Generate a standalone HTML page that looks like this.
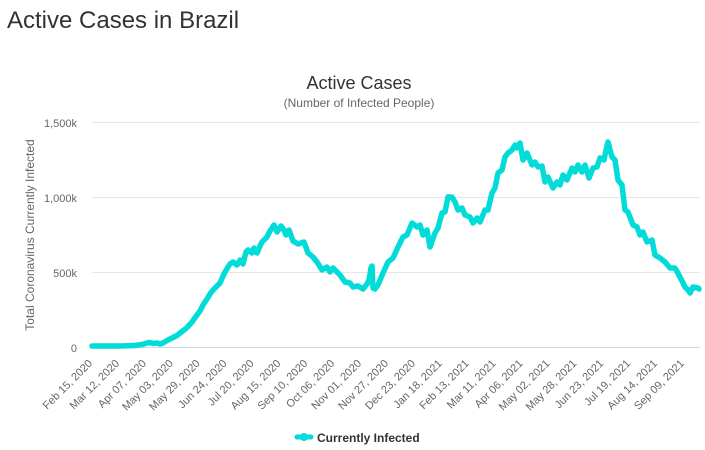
<!DOCTYPE html>
<html><head><meta charset="utf-8"><style>
html,body{margin:0;padding:0;background:#fff;}
body{width:705px;height:450px;overflow:hidden;position:relative;}
svg{position:absolute;left:0;top:0;}
</style></head><body>
<svg width="705" height="450" viewBox="0 0 705 450" xmlns="http://www.w3.org/2000/svg" font-family="'Liberation Sans', Arial, sans-serif">
<rect width="705" height="450" fill="#fff"/>
<text x="7" y="28" font-size="24" fill="#333">Active Cases in Brazil</text>
<text x="359" y="89" font-size="18" fill="#333" text-anchor="middle">Active Cases</text>
<text x="359" y="107" font-size="12" fill="#666" text-anchor="middle">(Number of Infected People)</text>
<g stroke="#e6e6e6" stroke-width="1">
<line x1="92" y1="122.5" x2="700" y2="122.5"/>
<line x1="92" y1="197.5" x2="700" y2="197.5"/>
<line x1="92" y1="272.5" x2="700" y2="272.5"/>
</g>
<line x1="92" y1="347.5" x2="700" y2="347.5" stroke="#ccd6eb" stroke-width="1"/>
<g font-size="11" fill="#666" text-anchor="end">
<text x="77" y="127">1,500k</text>
<text x="77" y="202">1,000k</text>
<text x="77" y="277">500k</text>
<text x="77" y="352">0</text>
</g>
<text transform="translate(34,235) rotate(-90)" font-size="12" fill="#666" text-anchor="middle">Total Coronavirus Currently Infected</text>
<g font-size="11" fill="#666" text-anchor="end">
<text transform="translate(93,364) rotate(-45)">Feb 15, 2020</text>
<text transform="translate(119.9,364) rotate(-45)">Mar 12, 2020</text>
<text transform="translate(146.8,364) rotate(-45)">Apr 07, 2020</text>
<text transform="translate(173.7,364) rotate(-45)">May 03, 2020</text>
<text transform="translate(200.6,364) rotate(-45)">May 29, 2020</text>
<text transform="translate(227.5,364) rotate(-45)">Jun 24, 2020</text>
<text transform="translate(254.4,364) rotate(-45)">Jul 20, 2020</text>
<text transform="translate(281.3,364) rotate(-45)">Aug 15, 2020</text>
<text transform="translate(308.2,364) rotate(-45)">Sep 10, 2020</text>
<text transform="translate(335.1,364) rotate(-45)">Oct 06, 2020</text>
<text transform="translate(362,364) rotate(-45)">Nov 01, 2020</text>
<text transform="translate(388.9,364) rotate(-45)">Nov 27, 2020</text>
<text transform="translate(415.8,364) rotate(-45)">Dec 23, 2020</text>
<text transform="translate(442.7,364) rotate(-45)">Jan 18, 2021</text>
<text transform="translate(469.6,364) rotate(-45)">Feb 13, 2021</text>
<text transform="translate(496.5,364) rotate(-45)">Mar 11, 2021</text>
<text transform="translate(523.4,364) rotate(-45)">Apr 06, 2021</text>
<text transform="translate(550.3,364) rotate(-45)">May 02, 2021</text>
<text transform="translate(577.2,364) rotate(-45)">May 28, 2021</text>
<text transform="translate(604.1,364) rotate(-45)">Jun 23, 2021</text>
<text transform="translate(631,364) rotate(-45)">Jul 19, 2021</text>
<text transform="translate(657.9,364) rotate(-45)">Aug 14, 2021</text>
<text transform="translate(684.8,364) rotate(-45)">Sep 09, 2021</text>
</g>
<polyline fill="none" stroke="#02dcd9" stroke-width="5.5" stroke-linejoin="round" stroke-linecap="round" points="92,346 120,346 135,345.5 142,344.5 147,343 150,342.5 153,343.5 157,343 160,344 164,342.5 167,340.5 172,338 177,335.5 180,333 184,330 187,327.5 192,322 197,315 200,311 203,305 207,299 210,294 213,290 215,288 218,285 220,283 223,276 225,272 228,267 230,264 233,262 237,265 240,260 243,264 246,252 248,250 252,253 254,248 257,253 260,246 262,242 267,237 270,231 274,225 277,232 281,226 284,230 286,235 289,230 293,241 298,244 304,242 308,253 313,257 317,262 322,270 327,267 330,272 333,268 337,272 340,275 345,282 350,283 353,287 358,286 363,289 367,284 369,280 371,268 372,266 373,288 375,289 378,285 383,273 388,262 393,258 398,247 403,237 407,235 412,223 417,227 420,225 423,235 427,230 430,247 435,233 438,228 442,213 445,212 448,197 452,197 455,202 458,210 462,208 465,215 470,217 473,223 477,218 480,222 485,210 488,210 492,193 495,188 498,173 502,170 505,157 508,153 512,150 515,145 517,148 520,143 523,160 527,153 532,165 535,162 538,167 542,166 545,182 548,177 553,188 557,182 560,185 563,175 567,180 572,168 575,172 578,165 582,172 585,165 589,178 593,168 597,167 600,158 604,160 606,150 608,142 610,150 612,157 615,160 618,180 622,185 625,210 628,212 633,225 637,227 640,235 643,232 647,242 652,240 655,255 660,258 665,262 670,268 675,268 680,277 685,287 688,290 690,293 693,287 698,288 699,289"/>
<line x1="297" y1="437" x2="311" y2="437" stroke="#02dcd9" stroke-width="5" stroke-linecap="round"/>
<circle cx="304" cy="437" r="4" fill="#02dcd9"/>
<text x="317" y="442" font-size="12" font-weight="bold" fill="#333">Currently Infected</text>
</svg>
</body></html>
